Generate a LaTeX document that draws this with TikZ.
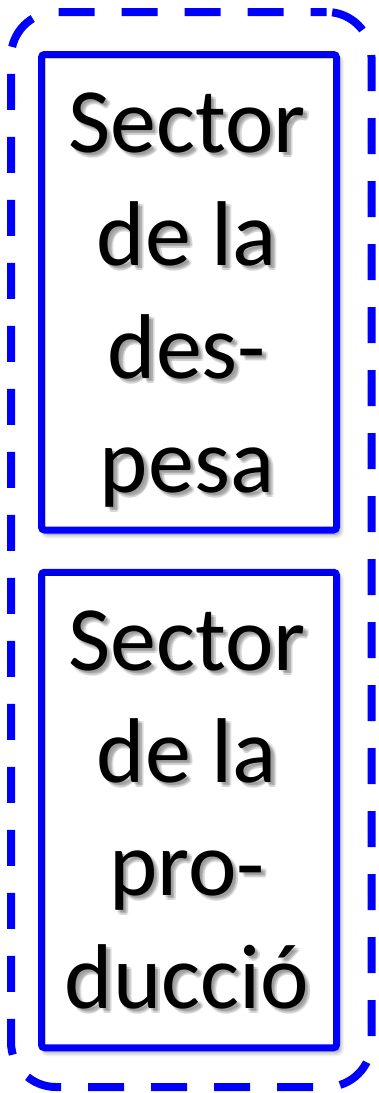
\documentclass[tikz,border=0pt]{standalone}
\usepackage{fontspec}
\setmainfont{Carlito}
\usetikzlibrary{shadows.blur}
\definecolor{pblue}{RGB}{0,0,255}
\begin{document}
\begin{tikzpicture}[x=1pt,y=-1pt,
  outerbox/.style={draw=pblue, line width=8pt, dash pattern=on 36pt off 27pt, dash phase=20pt,
    rounded corners=45pt, minimum width=360.5pt, minimum height=1075pt, inner sep=0pt},
  sectorbox/.style={draw=pblue, line width=7pt, fill=white, rounded corners=3pt,
    minimum width=295pt, minimum height=475.5pt, inner sep=0pt,
    blur shadow={shadow xshift=3pt, shadow yshift=-4pt, shadow blur steps=8, shadow blur radius=5pt, shadow opacity=50}},
  innershade/.style={draw=black, opacity=0.10, line width=4pt},
  word/.style={font=\fontsize{92}{113}\selectfont, anchor=base, inner sep=0pt},
  wshadow/.style={word, text=black, text opacity=0.09}]
\useasboundingbox (0,0) rectangle (378,1093);
\node[outerbox] (outer) at (191.25,549.5) {};
\node[sectorbox] (despesa) at (189,292.25) {};
\node[sectorbox] (produccio) at (189,810) {};
\draw[innershade] ([shift={(5.5pt,5pt)}]despesa.south west) -- ([shift={(5.5pt,-5.5pt)}]despesa.north west) -- ([shift={(-5pt,-5.5pt)}]despesa.north east);
\draw[innershade] ([shift={(5.5pt,5pt)}]produccio.south west) -- ([shift={(5.5pt,-5.5pt)}]produccio.north west) -- ([shift={(-5pt,-5.5pt)}]produccio.north east);
\foreach \t/\yy/\n in {Sector/152/a1, de la/265/a2, des-/378/a3, pesa/492/a4,
                       Sector/670/b1, de la/782/b2, pro-/895/b3, ducció/1008/b4} {
  \node[wshadow] (s1\n) at (189,\yy+2) {\t};
  \node[wshadow] (s2\n) at (190.5,\yy+3.5) {\t};
  \node[wshadow] (s3\n) at (192,\yy+5) {\t};
  \node[wshadow] (s4\n) at (190.5,\yy+5.5) {\t};
  \node[wshadow] (s5\n) at (192.5,\yy+3) {\t};
  \node[word] (w\n) at (187,\yy) {\t};
}
\end{tikzpicture}
\end{document}
